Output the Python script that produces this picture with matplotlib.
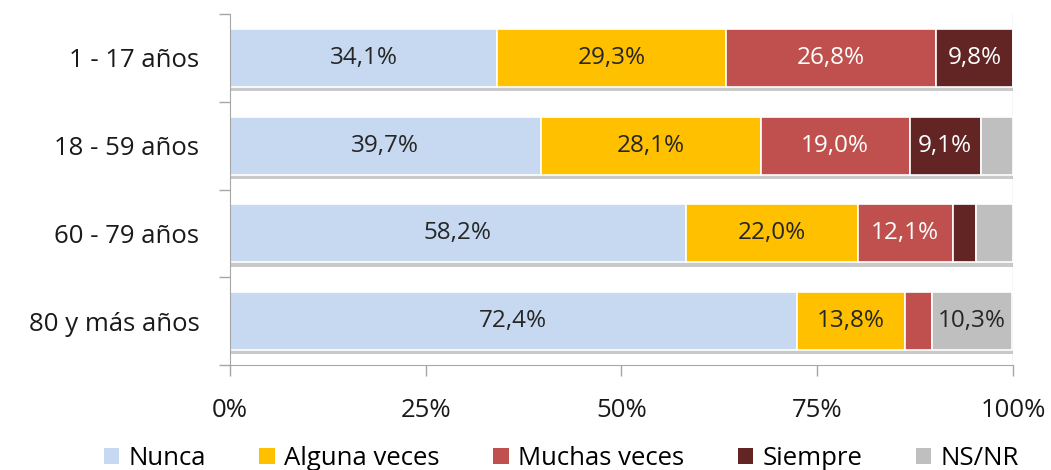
import matplotlib
matplotlib.use("Agg")
import matplotlib.pyplot as plt
from matplotlib import patheffects as pe
from matplotlib.patches import Patch
import numpy as np

plt.rcParams['font.family'] = ['Open Sans', 'DejaVu Sans']

groups = ['1 - 17 años', '18 - 59 años', '60 - 79 años', '80 y más años']
series = ['Nunca', 'Alguna veces', 'Muchas veces', 'Siempre', 'NS/NR']
nunca = [34.1, 39.7, 58.2, 72.4]
alguna = [29.3, 28.1, 22.0, 13.8]
muchas = [26.8, 19.0, 12.1, 3.4]
siempre = [9.8, 9.1, 3.0, 0.0]
nsnr = [0.0, 4.1, 4.7, 10.3]
x_ticks = [0, 25, 50, 75, 100]
x_labels = ['0%', '25%', '50%', '75%', '100%']

colors = ['#C6D9F1', '#FFC000', '#C0504D', '#632523', '#BFBFBF']
txt_colors = ['#262626', '#262626', 'white', 'white', '#262626']
min_label = 8.0

fig = plt.figure(figsize=(10.51, 4.70), dpi=100)
ax = fig.add_axes([0.2188, 0.2234, 0.745, 0.7466])

y = np.arange(len(groups))[::-1]
left = np.zeros(len(groups))
shadow = [pe.SimplePatchShadow(offset=(1, -3), shadow_rgbFace='#888888', alpha=0.45), pe.Normal()]
for vals, name, c, tc in zip([nunca, alguna, muchas, siempre, nsnr], series, colors, txt_colors):
    vals = np.array(vals)
    bars = ax.barh(y, vals, left=left, height=0.66, color=c, edgecolor='white',
                   linewidth=1.2)
    for b in bars:
        b.set_path_effects(shadow)
    for yi, l, v in zip(y, left, vals):
        if v >= min_label:
            ax.text(l + v / 2, yi, f'{v:.1f}%'.replace('.', ','), ha='center', va='center',
                    fontsize=17.5, color=tc)
    left += vals

ax.set_xlim(0, 100)
ax.set_ylim(-0.5, len(groups) - 0.5)
ax.axvline(100, color='#D9D9D9', lw=1, zorder=0)

ax.set_yticks(y)
ax.set_yticklabels(groups, fontsize=18.5, color='#1a1a1a')
ax.set_yticks(np.arange(-0.5, len(groups)), minor=True)
ax.tick_params(axis='y', which='major', length=0, pad=22)
ax.tick_params(axis='y', which='minor', length=8, color='#A6A6A6', width=1)

ax.set_xticks(x_ticks)
ax.set_xticklabels(x_labels, fontsize=18.5, color='#1a1a1a')
ax.tick_params(axis='x', length=8, color='#A6A6A6', width=1, pad=16)

for s in ['top', 'right']:
    ax.spines[s].set_visible(False)
ax.spines['left'].set_color('#A6A6A6')
ax.spines['bottom'].set_color('#A6A6A6')

handles = [Patch(facecolor=c, edgecolor='none') for c in colors]
fig.legend(handles, series, loc='lower center', bbox_to_anchor=(0.534, -0.052), ncol=5,
           frameon=False, fontsize=18.5, handlelength=0.6, handleheight=0.6,
           handletextpad=0.35, columnspacing=2.1)

fig.savefig('out.png', dpi=100)
